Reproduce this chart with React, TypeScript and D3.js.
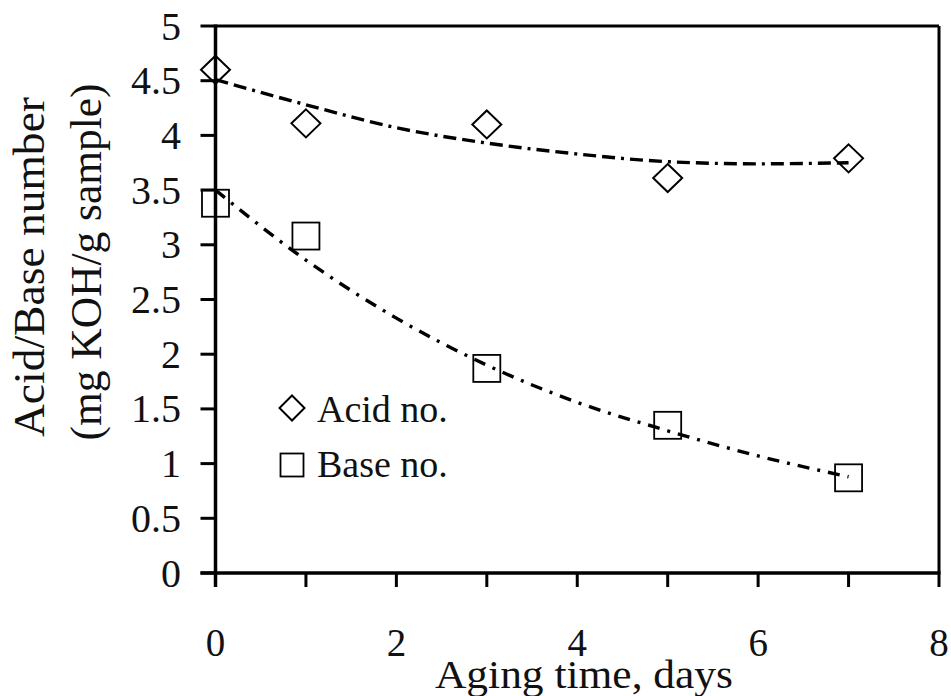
import React from "react";
import * as d3 from "d3";

const days = [0, 1, 3, 5, 7];
const acidNo = [4.6, 4.11, 4.1, 3.61, 3.79];
const baseNo = [3.38, 3.08, 1.87, 1.35, 0.87];

const trendX = [0, 1, 2, 3, 4, 5, 6, 7];
const acidTrend = [4.51, 4.28, 4.07, 3.93, 3.83, 3.76, 3.74, 3.75];
const baseTrend = [3.5, 2.86, 2.33, 1.9, 1.56, 1.3, 1.07, 0.88];

const xTickLabels = [0, 2, 4, 6, 8];
const xMinorTicks = [0, 1, 2, 3, 4, 5, 6, 7, 8];
const yTicks = [0, 0.5, 1, 1.5, 2, 2.5, 3, 3.5, 4, 4.5, 5];

const W = 951;
const H = 696;
const left = 215.5;
const right = 939;
const top = 26;
const bottom = 573;
const FONT = "'Liberation Serif', 'Times New Roman', serif";

export default function App() {
  const x = d3.scaleLinear().domain([0, 8]).range([left, right]);
  const y = d3.scaleLinear().domain([0, 5]).range([bottom, top]);

  const line = d3
    .line<[number, number]>()
    .x((d) => x(d[0]))
    .y((d) => y(d[1]))
    .curve(d3.curveMonotoneX);

  const acidPath = line(trendX.map((v, i) => [v, acidTrend[i]] as [number, number])) || "";
  const basePath = line(trendX.map((v, i) => [v, baseTrend[i]] as [number, number])) || "";

  const diamond = (cx: number, cy: number, hw: number, hh: number) =>
    `M${cx},${cy - hh}L${cx + hw},${cy}L${cx},${cy + hh}L${cx - hw},${cy}Z`;

  return (
    <svg
      width={W}
      height={H}
      style={{ position: "absolute", left: 0, top: 0, background: "#fff" }}
      fontFamily={FONT}
    >
      <rect x={0} y={0} width={W} height={H} fill="#fff" />
      {/* frame */}
      <line x1={left} y1={top} x2={right} y2={top} stroke="#000" strokeWidth={3} />
      <line x1={right} y1={top} x2={right} y2={bottom} stroke="#000" strokeWidth={3} />
      <line x1={left} y1={top - 1.5} x2={left} y2={bottom + 14} stroke="#000" strokeWidth={3.5} />
      <line x1={left - 15} y1={bottom} x2={right + 1.5} y2={bottom} stroke="#000" strokeWidth={3.5} />

      {/* y ticks */}
      {yTicks.map((t) => (
        <g key={"yt" + t}>
          <line x1={left - 15} x2={left} y1={y(t)} y2={y(t)} stroke="#000" strokeWidth={3} />
          <text x={181} y={y(t) + 13.5} textAnchor="end" fontSize={40} fill="#111">
            {String(t)}
          </text>
        </g>
      ))}

      {/* x ticks */}
      {xMinorTicks.map((t) => (
        <line key={"xt" + t} x1={x(t)} x2={x(t)} y1={bottom} y2={bottom + 14} stroke="#000" strokeWidth={3} />
      ))}
      {xTickLabels.map((t) => (
        <text key={"xl" + t} x={x(t)} y={656} textAnchor="middle" fontSize={39} fill="#111">
          {String(t)}
        </text>
      ))}

      {/* axis titles */}
      <text x={584} y={688} textAnchor="middle" fontSize={40} textLength={298} lengthAdjust="spacingAndGlyphs" fill="#111">
        Aging time, days
      </text>
      <text
        transform="translate(44,267) rotate(-90)"
        textAnchor="middle"
        fontSize={44}
        textLength={340}
        lengthAdjust="spacingAndGlyphs"
        fill="#111"
      >
        Acid/Base number
      </text>
      <text
        transform="translate(101,262) rotate(-90)"
        textAnchor="middle"
        fontSize={44}
        textLength={357}
        lengthAdjust="spacingAndGlyphs"
        fill="#111"
      >
        (mg KOH/g sample)
      </text>

      {/* trend lines */}
      <path d={acidPath} fill="none" stroke="#000" strokeWidth={3.4} strokeDasharray="13,6,13,6,3,6" />
      <path d={basePath} fill="none" stroke="#000" strokeWidth={3.4} strokeDasharray="12,8,3,8" />

      {/* markers */}
      {days.map((d, i) => (
        <path
          key={"a" + i}
          d={diamond(x(d), y(acidNo[i]), 14.5, 14)}
          fill="none"
          stroke="#000"
          strokeWidth={2}
        />
      ))}
      {days.map((d, i) => (
        <rect
          key={"b" + i}
          x={x(d) - 13.5}
          y={y(baseNo[i]) - 13.5}
          width={27}
          height={27}
          fill="none"
          stroke="#000"
          strokeWidth={1.8}
        />
      ))}

      {/* legend */}
      <path d={diamond(292, 408, 12.5, 12.5)} fill="none" stroke="#000" strokeWidth={2} />
      <text x={317} y={422} fontSize={38} fill="#111">
        Acid no.
      </text>
      <rect x={280.5} y={453.5} width={23} height={23} fill="none" stroke="#000" strokeWidth={1.8} />
      <text x={317} y={477} fontSize={38} fill="#111">
        Base no.
      </text>
    </svg>
  );
}
